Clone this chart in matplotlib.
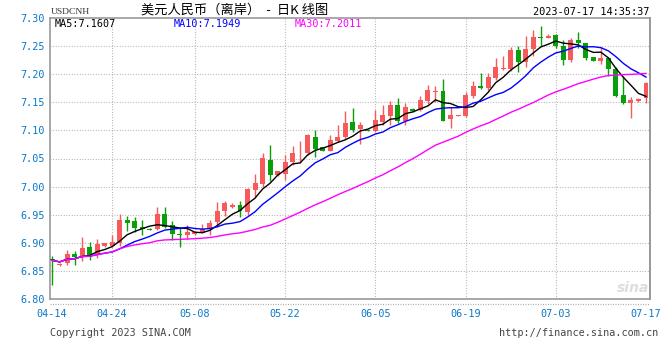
import matplotlib
matplotlib.use("Agg")
import matplotlib.pyplot as plt
import numpy as np
import pandas as pd
from matplotlib.lines import Line2D

# ---------------- data ----------------
opens = [6.871, 6.861, 6.864, 6.880, 6.877, 6.893, 6.880, 6.894, 6.895, 6.900,
         6.940, 6.938, 6.929, 6.925, 6.924, 6.952, 6.931, 6.916, 6.913, 6.916,
         6.918, 6.924, 6.937, 6.956, 6.963, 6.968, 6.954, 6.994, 7.005, 7.048,
         7.021, 7.022, 7.043, 7.059, 7.060, 7.088, 7.070, 7.064, 7.082, 7.088,
         7.115, 7.102, 7.101, 7.099, 7.115, 7.126, 7.145, 7.116, 7.138, 7.137,
         7.153, 7.169, 7.170, 7.120, 7.126, 7.126, 7.161, 7.179, 7.175, 7.193,
         7.209, 7.209, 7.243, 7.222, 7.244, 7.267, 7.265, 7.270, 7.250, 7.226,
         7.261, 7.255, 7.230, 7.224, 7.228, 7.210, 7.163, 7.148, 7.152, 7.157]
highs = [6.876, 6.864, 6.888, 6.886, 6.911, 6.902, 6.906, 6.900, 6.913, 6.951,
         6.948, 6.946, 6.940, 6.926, 6.963, 6.964, 6.938, 6.929, 6.932, 6.921,
         6.934, 6.941, 6.972, 6.974, 6.970, 6.975, 6.998, 7.023, 7.060, 7.074,
         7.028, 7.057, 7.073, 7.081, 7.094, 7.100, 7.070, 7.092, 7.110, 7.135,
         7.140, 7.115, 7.102, 7.137, 7.145, 7.153, 7.157, 7.148, 7.139, 7.162,
         7.180, 7.179, 7.192, 7.141, 7.127, 7.168, 7.188, 7.203, 7.203, 7.228,
         7.232, 7.248, 7.251, 7.268, 7.278, 7.286, 7.271, 7.271, 7.260, 7.265,
         7.275, 7.256, 7.230, 7.249, 7.230, 7.213, 7.197, 7.159, 7.157, 7.187]
lows = [6.825, 6.859, 6.861, 6.860, 6.868, 6.870, 6.873, 6.892, 6.892, 6.895,
        6.921, 6.919, 6.913, 6.922, 6.922, 6.926, 6.905, 6.893, 6.906, 6.913,
        6.917, 6.914, 6.929, 6.947, 6.962, 6.946, 6.950, 6.982, 7.000, 7.010,
        7.019, 7.011, 7.038, 7.042, 7.057, 7.052, 7.064, 7.064, 7.080, 7.084,
        7.097, 7.076, 7.099, 7.098, 7.110, 7.110, 7.113, 7.110, 7.132, 7.135,
        7.147, 7.150, 7.116, 7.104, 7.125, 7.124, 7.158, 7.174, 7.172, 7.190,
        7.208, 7.205, 7.204, 7.212, 7.232, 7.250, 7.264, 7.246, 7.216, 7.222,
        7.246, 7.225, 7.224, 7.219, 7.196, 7.159, 7.147, 7.122, 7.151, 7.148]
closes = [6.869, 6.863, 6.880, 6.875, 6.891, 6.878, 6.897, 6.899, 6.901, 6.940,
          6.935, 6.926, 6.924, 6.9235, 6.952, 6.928, 6.915, 6.913, 6.919, 6.919,
          6.924, 6.936, 6.957, 6.970, 6.968, 6.956, 6.996, 7.007, 7.051, 7.020,
          7.027, 7.044, 7.060, 7.060, 7.091, 7.067, 7.064, 7.083, 7.088, 7.114,
          7.100, 7.110, 7.099, 7.119, 7.127, 7.145, 7.116, 7.142, 7.135, 7.154,
          7.171, 7.170, 7.117, 7.127, 7.1265, 7.163, 7.179, 7.175, 7.195, 7.212,
          7.2115, 7.243, 7.222, 7.245, 7.267, 7.265, 7.268, 7.250, 7.226, 7.261,
          7.255, 7.228, 7.224, 7.228, 7.210, 7.161, 7.148, 7.154, 7.156, 7.184]

tick_idx = [0, 8, 19, 31, 43, 55, 67, 79]
tick_labels = ["04-14", "04-24", "05-08", "05-22", "06-05", "06-19", "07-03", "07-17"]
y_ticks = [6.80, 6.85, 6.90, 6.95, 7.00, 7.05, 7.10, 7.15, 7.20, 7.25, 7.30]

symbol = "USDCNH"
title = "美元人民币（离岸）  -  日K 线图"
timestamp = "2023-07-17 14:35:37"
ma_windows = [5, 10, 30]
ma_last_values = ["7.1607", "7.1949", "7.2011"]
ma_colors = ["#000000", "#0000ff", "#ff00ff"]

# ---------------- figure ----------------
plt.rcParams['font.family'] = ['DejaVu Sans']
W, H = 660, 360
fig = plt.figure(figsize=(W / 100, H / 100), dpi=100)
fig.patch.set_facecolor("white")

L, R, T, B = 50, 650, 18, 299
ax = fig.add_axes([L / W, 1 - B / H, (R - L) / W, (B - T) / H])
ax.set_facecolor("white")

df = pd.DataFrame({"open": opens, "high": highs, "low": lows, "close": closes})
x = np.arange(len(df))
up = df["close"] >= df["open"]
red = "#f65a5a"
green = "#0a9e0a"
cols = np.where(up, red, green)

body_w = 0.66
ax.vlines(x, df["low"], df["high"], colors=cols, linewidth=1.0, zorder=3)
body_bottom = np.minimum(df["open"], df["close"])
body_h = np.maximum(np.abs(df["close"] - df["open"]), 0.0009)
ax.bar(x, body_h, bottom=body_bottom, width=body_w, color=cols, linewidth=0, zorder=4)

for w, c in zip(ma_windows, ma_colors):
    ma = df["close"].rolling(w, min_periods=1).mean()
    ax.plot(x, ma, color=c, linewidth=1.0, zorder=5)

ax.set_xlim(-0.27, len(df) - 1 + 0.53)
ax.set_ylim(6.80, 7.30)

grid_kw = dict(color="#aaaaaa", linewidth=0.8, linestyle=(0, (0.8, 1.6)), zorder=1)
for yv in y_ticks[1:-1]:
    ax.axhline(yv, **grid_kw)
for xi in tick_idx[1:-1]:
    ax.axvline(xi, **grid_kw)

ax.set_yticks(y_ticks)
ax.set_yticklabels([f"{v:.2f}" for v in y_ticks])
ax.set_xticks(tick_idx)
ax.set_xticklabels(tick_labels)
ax.tick_params(axis="both", length=0, labelsize=7.3, labelcolor="#0a78c8")
ax.tick_params(axis="y", pad=3.5)
ax.tick_params(axis="x", pad=7)
for lab in ax.get_xticklabels() + ax.get_yticklabels():
    lab.set_family("DejaVu Sans Mono")

for s in ["left", "top", "bottom"]:
    ax.spines[s].set_color("#999999")
    ax.spines[s].set_linewidth(1.2)
ax.spines["right"].set_color("#999999")
ax.spines["right"].set_linewidth(1.4)
ax.spines["right"].set_linestyle((0, (1, 1)))

# dotted line just under the frame
fig.add_artist(Line2D([L / W, R / W], [1 - 303.5 / H, 1 - 303.5 / H], color="#aaaaaa",
                      linewidth=0.9, linestyle=(0, (0.8, 1.2))))

# header texts
fig.text(51 / W, 1 - 12 / H, symbol, fontsize=6.8, family="Liberation Serif",
         color="#333333", va="center", ha="left")
fig.text(141 / W, 1 - 10 / H, title, fontsize=9.5,
         family=["Noto Sans CJK SC", "DejaVu Sans"], color="#000000",
         va="center", ha="left")
fig.text(649 / W, 1 - 12 / H, timestamp, fontsize=7.4, family="DejaVu Sans Mono",
         color="#000000", va="center", ha="right")

ma_x = [55, 174, 295]
for px, w, v, c in zip(ma_x, ma_windows, ma_last_values, ma_colors):
    fig.text(px / W, 1 - 24 / H, f"MA{w}:{v}", fontsize=7.3, family="DejaVu Sans Mono",
             color=c, va="center", ha="left")

# watermark
fig.text(633 / W, 1 - 288 / H, "sina", fontsize=10, style="italic", weight="bold",
         color="#dddddd", va="center", ha="center", family="DejaVu Sans")

# footer
fig.text(50 / W, 1 - 333 / H, "Copyright 2023 SINA.COM", fontsize=7.3,
         family="DejaVu Sans Mono", color="#444444", va="center", ha="left")
fig.text(658 / W, 1 - 333 / H, "http://finance.sina.com.cn", fontsize=7.3,
         family="DejaVu Sans Mono", color="#444444", va="center", ha="right")

fig.savefig("out.png", dpi=100, facecolor="white")
